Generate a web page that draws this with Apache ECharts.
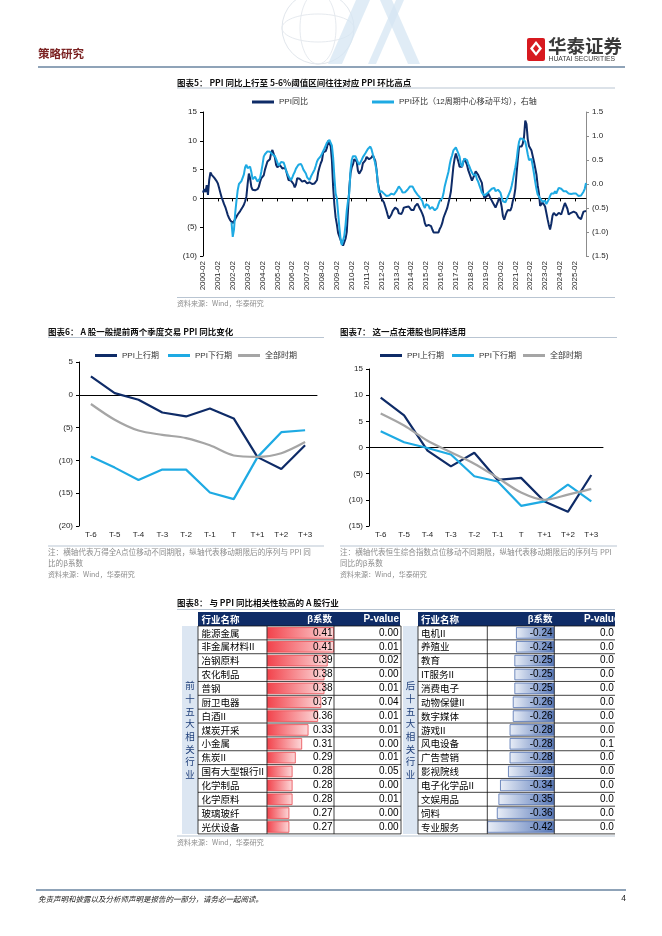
<!DOCTYPE html>
<html><head><meta charset="utf-8">
<script src="https://cdn.jsdelivr.net/npm/echarts@6/dist/echarts.min.js"></script>
<style>html,body{margin:0;padding:0;background:#fff}#c{width:662px;height:936px}</style>
</head><body><div id="c"></div>
<script>
// ---------------- DATA ----------------
// Chart 5: monthly categories 2000-02 .. 2025-11
const months = [];
for (let y = 2000; y <= 2025; y++) for (let m = 1; m <= 12; m++) {
  if (y === 2000 && m < 2) continue;
  if (y === 2025 && m > 11) break;
  months.push(y + '-' + String(m).padStart(2, '0'));
}
// PPI YoY (%), 2000-02 .. 2025-11
const ppiYoY = [
  1.0, 1.6, 1.1, 2.3, 0.6, 3.2, 4.5, 4.1, 3.8, 3.6, 3.4,
  3.0, 2.6, 1.8, 1.0, 0.2, -0.4, -1.0, -1.5, -2.2, -2.9, -3.4, -3.8,
  -4.1, -4.3, -4.2, -3.6, -3.2, -2.8, -2.6, -2.2, -1.9, -1.5, -1.1, -0.5,
  0.3, 2.5, 4.3, 3.5, 2.0, 1.5, 1.4, 1.4, 1.5, 1.6, 2.0, 2.8,
  3.5, 3.6, 4.0, 5.0, 5.7, 6.4, 6.4, 6.8, 7.9, 8.4, 8.1, 7.1,
  5.8, 5.4, 5.6, 5.8, 5.9, 5.2, 5.2, 5.3, 4.9, 4.0, 3.2, 3.2,
  3.1, 3.0, 2.5, 1.9, 2.4, 3.5, 3.6, 3.4, 3.5, 2.9, 2.8, 3.1,
  3.3, 2.6, 2.7, 2.8, 2.8, 2.5, 2.4, 2.6, 2.7, 3.2, 4.6, 5.4,
  6.1, 6.6, 8.0, 8.1, 8.2, 8.8, 10.0, 10.1, 9.1, 6.6, 2.0, -1.1,
  -3.3, -4.5, -6.0, -6.6, -7.2, -7.8, -8.2, -7.9, -7.0, -5.8, -2.1, 1.7,
  4.3, 5.4, 5.9, 6.8, 7.1, 6.4, 4.8, 4.3, 4.3, 5.0, 6.1, 5.9,
  6.6, 7.2, 7.3, 6.8, 6.8, 7.1, 7.5, 7.3, 6.5, 5.0, 2.7, 1.7,
  0.7, 0.0, -0.3, -0.7, -1.4, -2.1, -2.9, -3.5, -3.6, -2.8, -2.2, -1.9,
  -1.6, -1.6, -1.9, -2.6, -2.9, -2.7, -2.3, -1.6, -1.3, -1.5, -1.4, -1.4,
  -1.6, -2.0, -2.3, -2.0, -1.4, -1.1, -0.9, -1.2, -1.8, -2.2, -2.7, -3.3,
  -4.3, -4.8, -4.6, -4.6, -4.6, -4.8, -5.4, -5.9, -5.9, -5.9, -5.9, -5.9,
  -5.3, -4.9, -4.3, -3.4, -2.8, -2.6, -1.7, -0.8, 0.1, 1.2, 3.3, 5.5,
  6.9, 7.8, 7.6, 6.4, 5.5, 5.5, 5.5, 6.3, 6.9, 6.9, 5.8, 4.9,
  4.3, 3.7, 3.1, 3.4, 4.1, 4.7, 4.6, 4.1, 3.6, 3.3, 2.7, 0.9,
  0.1, 0.1, 0.4, 0.9, 0.6, 0.0, -0.3, -0.8, -1.2, -1.6, -1.4, -0.5,
  0.1, -0.4, -1.5, -3.1, -3.7, -3.0, -2.4, -2.0, -2.1, -2.1, -1.5, -0.4,
  0.3, 1.7, 4.4, 6.8, 9.0, 8.8, 9.0, 9.5, 10.7, 13.5, 12.9, 10.3,
  9.1, 8.8, 8.3, 8.0, 6.4, 6.1, 4.2, 2.3, 0.9, -1.3, -1.3, -0.7,
  -0.8, -1.4, -2.5, -3.6, -4.6, -5.4, -4.4, -3.0, -2.5, -2.6, -3.0, -2.7,
  -2.5, -2.7, -2.8, -2.5, -1.4, -0.8, -0.8, -1.8, -2.8, -2.9, -2.5, -2.3,
  -2.3, -2.2, -2.5, -2.7, -3.3, -3.6, -3.6, -2.9, -2.3, -2.1, -2.2
];
// PPI MoM, 12-period centred moving average (%), right axis; starts 2002-01
const ppiMoMStart = 23;
const ppiMoM = [
  -0.80, -1.10, -0.95, -0.60, -0.35, -0.13, 0.00, 0.03, 0.06, 0.10, 0.20, 0.35,
  0.40, 0.33, 0.30, 0.36, 0.25, 0.10, 0.08, 0.15, 0.10, 0.05, 0.01, 0.12,
  0.25, 0.40, 0.57, 0.62, 0.66, 0.68, 0.67, 0.67, 0.65, 0.62, 0.58, 0.58,
  0.52, 0.48, 0.38, 0.40, 0.46, 0.50, 0.45, 0.38, 0.28, 0.22, 0.16, 0.12,
  0.08, 0.13, 0.20, 0.25, 0.32, 0.36, 0.40, 0.43, 0.42, 0.37, 0.30, 0.26,
  0.22, 0.14, 0.10, 0.08, 0.15, 0.20, 0.25, 0.30, 0.38, 0.47, 0.52, 0.53,
  0.58, 0.63, 0.66, 0.74, 0.80, 0.86, 0.90, 0.92, 0.90, 0.80, 0.55, 0.15,
  -0.20, -0.30, -0.60, -0.90, -1.15, -1.27, -1.24, -1.08, -0.85, -0.55, -0.35, -0.19,
  0.29, 0.50, 0.58, 0.60, 0.58, 0.55, 0.45, 0.40, 0.43, 0.50, 0.56, 0.60,
  0.64, 0.68, 0.73, 0.77, 0.78, 0.72, 0.62, 0.53, 0.42, 0.28, 0.05, -0.18,
  -0.22, -0.15, -0.18, -0.20, -0.22, -0.25, -0.26, -0.24, -0.22, -0.20, -0.22, -0.22,
  -0.20, -0.15, -0.10, -0.05, -0.02, -0.12, -0.18, -0.20, -0.17, -0.14, -0.12, -0.10,
  -0.05, -0.02, -0.05, -0.10, -0.15, -0.18, -0.22, -0.25, -0.28, -0.32, -0.36, -0.45,
  -0.50, -0.42, -0.40, -0.45, -0.52, -0.50, -0.48, -0.52, -0.55, -0.54, -0.50, -0.42,
  -0.35, -0.37, -0.30, -0.20, -0.05, 0.05, 0.15, 0.25, 0.40, 0.52, 0.60, 0.70,
  0.74, 0.76, 0.70, 0.64, 0.57, 0.42, 0.36, 0.47, 0.53, 0.52, 0.50, 0.42,
  0.36, 0.29, 0.24, 0.19, 0.22, 0.20, 0.10, 0.05, -0.03, -0.10, -0.18, -0.22,
  -0.24, -0.22, -0.20, -0.18, -0.15, -0.12, -0.10, -0.10, -0.08, -0.15, -0.18, -0.12,
  -0.08, -0.18, -0.28, -0.36, -0.40, -0.38, -0.32, -0.26, -0.22, -0.14, -0.04, 0.08,
  0.22, 0.35, 0.50, 0.72, 0.88, 0.95, 0.96, 0.94, 0.98, 0.88, 0.76, 0.62,
  0.50, 0.47, 0.52, 0.38, 0.22, 0.05, -0.10, -0.22, -0.26, -0.30, -0.34, -0.37,
  -0.36, -0.35, -0.42, -0.40, -0.32, -0.25, -0.20, -0.24, -0.20, -0.15, -0.20, -0.14,
  -0.08, -0.05, -0.10, -0.14, -0.15, -0.12, -0.15, -0.19, -0.20, -0.17, -0.21, -0.19,
  -0.20, -0.22, -0.20, -0.22, -0.25, -0.21, -0.24, -0.20, -0.16, -0.10, 0.02
];
const yLeftTicks = [-10, 15, 5];   // min, max, step
const yRightTicks = [-1.5, 1.5, 0.5];

// Charts 6 & 7
const tCats = ['T-6', 'T-5', 'T-4', 'T-3', 'T-2', 'T-1', 'T', 'T+1', 'T+2', 'T+3'];
const aUp   = [2.8, 0.25, -0.75, -2.7, -3.3, -2.1, -3.6, -9.5, -11.3, -7.7];
const aDown = [-9.4, -11.1, -13.0, -11.4, -11.4, -14.9, -15.9, -9.5, -5.7, -5.4];
const aAll  = [-1.4, -3.8, -5.45, -6.1, -6.6, -7.7, -9.25, -9.45, -8.9, -7.2];
const hUp   = [9.55, 6.15, -0.6, -3.6, -1.0, -6.2, -5.8, -10.3, -12.3, -5.25];
const hDown = [3.1, 1.0, -0.1, -1.35, -5.5, -6.5, -11.15, -10.3, -7.1, -10.3];
const hAll  = [6.5, 4.2, 1.3, -0.9, -3.1, -5.8, -8.6, -10.0, -9.0, -7.9];

// Chart 8 table
const topNames = ['能源金属', '非金属材料II', '冶钢原料', '农化制品', '普钢', '厨卫电器', '白酒II', '煤炭开采', '小金属', '焦炭II', '国有大型银行II', '化学制品', '化学原料', '玻璃玻纤', '光伏设备'];
const topBeta  = [0.41, 0.41, 0.39, 0.38, 0.38, 0.37, 0.36, 0.33, 0.31, 0.29, 0.28, 0.28, 0.28, 0.27, 0.27];
const topP     = ['0.00', '0.01', '0.02', '0.00', '0.01', '0.04', '0.01', '0.01', '0.00', '0.01', '0.05', '0.00', '0.01', '0.00', '0.00'];
const botNames = ['电机II', '养殖业', '教育', 'IT服务II', '消费电子', '动物保健II', '数字媒体', '游戏II', '风电设备', '广告营销', '影视院线', '电子化学品II', '文娱用品', '饲料', '专业服务'];
const botBeta  = [-0.24, -0.24, -0.25, -0.25, -0.25, -0.26, -0.26, -0.28, -0.28, -0.28, -0.29, -0.34, -0.35, -0.36, -0.42];
const botP     = ['0.0', '0.0', '0.0', '0.0', '0.0', '0.0', '0.0', '0.0', '0.1', '0.0', '0.0', '0.0', '0.0', '0.0', '0.0'];

// ---------------- STYLE ----------------
const NAVY = '#0E2B67', SKY = '#1EAAE3', GREY = '#A5A5A5';
const LAT = "'Liberation Sans','Noto Sans CJK SC',sans-serif";
const CJK = "'Noto Sans CJK SC',sans-serif";
const TXT = '#262626', SUB = '#8C8C8C', RULE = '#B9C5D2';
const ROWT = 626, ROWH = 13.86;

function paren(v, d) { const s = Math.abs(v).toFixed(d); return v < -1e-9 ? '(' + s + ')' : s; }

const momData = Array(ppiMoMStart).fill(null).concat(ppiMoM);

// ---------------- GRAPHICS (page furniture) ----------------
const g = [];
function T(text, x, y, font, fill, align, va, extraStyle) {
  g.push({ type: 'text', z: 20, style: Object.assign({ text, x, y, font, fill: fill || TXT, textAlign: align || 'left', textVerticalAlign: va || 'middle' }, extraStyle || {}) });
}
function L(x1, y1, x2, y2, stroke, w, z) {
  g.push({ type: 'line', z: z || 20, shape: { x1, y1, x2, y2 }, style: { stroke, lineWidth: w || 1 } });
}
function R(x, y, w, h, fill, z) {
  g.push({ type: 'rect', z: z || 1, shape: { x, y, width: w, height: h }, style: { fill } });
}
// header decoration (globe + stripes)
g.push({ type: 'circle', z: 0, shape: { cx: 318, cy: 28, r: 36 }, style: { fill: 'none', stroke: '#E1E6EC', lineWidth: 1 } });
g.push({ type: 'ellipse', z: 0, shape: { cx: 318, cy: 28, rx: 18, ry: 36 }, style: { fill: 'none', stroke: '#E6EAEF', lineWidth: 1 } });
g.push({ type: 'ellipse', z: 0, shape: { cx: 318, cy: 28, rx: 36, ry: 14 }, style: { fill: 'none', stroke: '#E6EAEF', lineWidth: 1 } });
[[356, 0, 370, 0, 342, 64, 328, 64], [380, 0, 392, 0, 420, 64, 408, 64], [396, 0, 404, 0, 376, 64, 368, 64]].forEach(p => {
  g.push({ type: 'polygon', z: 0, shape: { points: [[p[0], p[1]], [p[2], p[3]], [p[4], p[5]], [p[6], p[7]]] }, style: { fill: '#D6E6F3', opacity: 0.75 } });
});
T('策略研究', 38, 54, 'bold 11.5px ' + CJK, '#7C2323');
// logo
g.push({ type: 'rect', z: 5, shape: { x: 527, y: 38, width: 18, height: 23, r: 2 }, style: { fill: '#D7191F' } });
g.push({ type: 'polygon', z: 6, shape: { points: [[536, 41], [542, 48.5], [536, 56], [530, 48.5]] }, style: { fill: '#fff' } });
g.push({ type: 'polygon', z: 7, shape: { points: [[536, 44.5], [539, 48.5], [536, 52.5], [533, 48.5]] }, style: { fill: '#D7191F' } });
T('华泰证券', 548, 46, 'bold 18.5px ' + CJK, '#3A3A3A');
T('HUATAI SECURITIES', 548.5, 59.5, '6.8px ' + LAT, '#3A3A3A');
L(38, 67, 625, 67, '#8FA3B8', 2);

// chart 5 texts
T('图表5： PPI 同比上行至 5-6%阈值区间往往对应 PPI 环比高点', 177, 82.5, 'bold 8.5px ' + CJK, '#111');
L(177, 88, 615, 88, RULE, 1);
L(177, 297.5, 615, 297.5, RULE, 1);
T('资料来源：Wind，华泰研究', 177, 303.5, '7px ' + CJK, SUB);

// chart 6 texts
T('图表6： A 股一般提前两个季度交易 PPI 同比变化', 48, 332, 'bold 8.5px ' + CJK, '#111');
L(48, 337.5, 324, 337.5, RULE, 1);
L(48, 546, 324, 546, RULE, 1);
T('注：横轴代表万得全A点位移动不同期限，纵轴代表移动期限后的序列与 PPI 同', 48, 552, '7.6px ' + CJK, SUB);
T('比的β系数', 48, 563, '7.6px ' + CJK, SUB);
T('资料来源：Wind，华泰研究', 48, 574.5, '7px ' + CJK, SUB);

// chart 7 texts
T('图表7： 这一点在港股也同样适用', 340, 332, 'bold 8.5px ' + CJK, '#111');
L(340, 337.5, 617, 337.5, RULE, 1);
L(340, 546, 617, 546, RULE, 1);
T('注：横轴代表恒生综合指数点位移动不同期限，纵轴代表移动期限后的序列与 PPI', 340, 552, '7.6px ' + CJK, SUB);
T('同比的β系数', 340, 563, '7.6px ' + CJK, SUB);
T('资料来源：Wind，华泰研究', 340, 574.5, '7px ' + CJK, SUB);

// chart 8 table furniture
T('图表8： 与 PPI 同比相关性较高的 A 股行业', 177, 603, 'bold 8.5px ' + CJK, '#111');
L(177, 609.5, 615, 609.5, RULE, 1);
const nRows = topNames.length, tBot = ROWT + nRows * ROWH;
R(198, 612, 202, ROWT - 612, '#0F2C67', 1);
R(418, 612, 200, ROWT - 612, '#0F2C67', 1);
R(182, ROWT, 16, tBot - ROWT, '#DCE6F2', 1);
R(403, ROWT, 15, tBot - ROWT, '#DCE6F2', 1);
T('行业名称', 201.5, 619, 'bold 9.5px ' + CJK, '#fff');
T('β系数', 332, 619, 'bold 9.5px ' + LAT, '#fff', 'right');
T('P-value', 399, 619, 'bold 10px ' + LAT, '#fff', 'right');
T('行业名称', 421, 619, 'bold 9.5px ' + CJK, '#fff');
T('β系数', 552.5, 619, 'bold 9.5px ' + LAT, '#fff', 'right');
T('P-value', 619.5, 619, 'bold 10px ' + LAT, '#fff', 'right');
T('前\n十\n五\n大\n相\n关\n行\n业', 190, (ROWT + tBot) / 2, '9.5px ' + CJK, '#1F3F7A', 'center', 'middle', { lineHeight: 12.7 });
T('后\n十\n五\n大\n相\n关\n行\n业', 410.5, (ROWT + tBot) / 2, '9.5px ' + CJK, '#1F3F7A', 'center', 'middle', { lineHeight: 12.7 });
for (let k = 0; k <= nRows; k++) {
  const y = ROWT + k * ROWH;
  L(198, y, 401, y, '#111', 0.8, 30);
  L(418, y, 620, y, '#111', 0.8, 30);
}
[198, 267, 334, 401, 418, 487.3, 554.3].forEach(x => L(x, ROWT, x, tBot, '#111', 0.8, 30));
// page clip of the right table
R(615, 611, 47, tBot - 611 + 1, '#fff', 60);
L(177, 836, 615, 836, RULE, 1);
T('资料来源：Wind，华泰研究', 177, 842, '7px ' + CJK, SUB);

// footer
L(36, 890, 626, 890, '#8FA3B8', 2);
T('免责声明和披露以及分析师声明是报告的一部分，请务必一起阅读。', 38, 899, 'italic 7.5px ' + CJK, '#222');
T('4', 626, 899, '8.5px ' + LAT, '#222', 'right');

// ---------------- OPTION ----------------
const axisLbl = { fontSize: 8, color: TXT, fontFamily: LAT };
const legendBase = { icon: 'rect', itemWidth: 22, itemHeight: 3, padding: 0, textStyle: { fontSize: 8, color: '#333', fontFamily: LAT }, selectedMode: false };
const lineS = (name, data, color, xi, yi, extra) => Object.assign({
  type: 'line', name, data, xAxisIndex: xi, yAxisIndex: yi, symbol: 'none', showSymbol: false,
  lineStyle: { width: 2, color }, itemStyle: { color }, color, animation: false
}, extra || {});
const catY = (gi, data, pos, offset, align, margin, font, color) => ({
  gridIndex: gi, type: 'category', inverse: true, data, position: pos, offset: offset || 0, z: 10,
  axisLine: { show: false }, axisTick: { show: false }, splitLine: { show: false },
  axisLabel: { interval: 0, align, margin, fontSize: font === CJK ? 9.5 : 10, fontFamily: font, color: color || '#000' }
});

const option = {
  animation: false,
  backgroundColor: '#fff',
  grid: [
    { left: 203, top: 112, width: 383, height: 144 },
    { left: 79, top: 362, width: 238, height: 164 },
    { left: 369, top: 369, width: 234, height: 157 },
    { left: 267, top: ROWT, width: 67, height: nRows * ROWH },
    { left: 487.3, top: ROWT, width: 67, height: nRows * ROWH }
  ],
  legend: [
    Object.assign({ data: ['PPI同比'], left: 252, top: 98 }, legendBase),
    Object.assign({ data: ['PPI环比（12周期中心移动平均），右轴'], left: 372, top: 98 }, legendBase),
    Object.assign({ data: ['PPI上行期'], left: 95, top: 351.5 }, legendBase),
    Object.assign({ data: ['PPI下行期'], left: 168, top: 351.5 }, legendBase),
    Object.assign({ data: ['全部时期'], left: 238, top: 351.5 }, legendBase),
    Object.assign({ data: ['PPI上行期 '], left: 380, top: 351.5, formatter: n => n.trim() }, legendBase),
    Object.assign({ data: ['PPI下行期 '], left: 452, top: 351.5, formatter: n => n.trim() }, legendBase),
    Object.assign({ data: ['全部时期 '], left: 523, top: 351.5, formatter: n => n.trim() }, legendBase)
  ],
  xAxis: [
    { gridIndex: 0, type: 'category', data: months, boundaryGap: false, axisLine: { show: false, onZero: false }, axisTick: { show: false },
      axisLabel: Object.assign({ interval: 11, rotate: 90, margin: 5 }, axisLbl), splitLine: { show: false } },
    { gridIndex: 0, type: 'category', data: months, boundaryGap: false, position: 'bottom',
      axisLine: { onZero: true, onZeroAxisIndex: 0, lineStyle: { color: '#000', width: 1 } },
      axisTick: { interval: 11, length: 3, lineStyle: { color: '#000' } }, axisLabel: { show: false }, splitLine: { show: false } },
    { gridIndex: 1, type: 'category', data: tCats, axisLine: { show: false, onZero: false }, axisTick: { show: false },
      axisLabel: Object.assign({ interval: 0, margin: 5 }, axisLbl) },
    { gridIndex: 1, type: 'category', data: tCats, position: 'bottom',
      axisLine: { onZero: true, onZeroAxisIndex: 2, lineStyle: { color: '#000', width: 1 } },
      axisTick: { length: 3, lineStyle: { color: '#000' } }, axisLabel: { show: false } },
    { gridIndex: 2, type: 'category', data: tCats, axisLine: { show: false, onZero: false }, axisTick: { show: false },
      axisLabel: Object.assign({ interval: 0, margin: 5 }, axisLbl) },
    { gridIndex: 2, type: 'category', data: tCats, position: 'bottom',
      axisLine: { onZero: true, onZeroAxisIndex: 3, lineStyle: { color: '#000', width: 1 } },
      axisTick: { length: 3, lineStyle: { color: '#000' } }, axisLabel: { show: false } },
    { gridIndex: 3, type: 'value', min: 0.2, max: 0.41, startValue: 0.2, show: false },
    { gridIndex: 4, type: 'value', min: -0.42, max: 0, show: false }
  ],
  yAxis: [
    { gridIndex: 0, type: 'value', min: yLeftTicks[0], max: yLeftTicks[1], interval: yLeftTicks[2],
      axisLine: { show: true, lineStyle: { color: '#000' } }, axisTick: { show: true, length: 3, lineStyle: { color: '#000' } },
      axisLabel: Object.assign({ formatter: v => paren(v, 0), margin: 6 }, axisLbl), splitLine: { show: false } },
    { gridIndex: 0, type: 'value', position: 'right', min: yRightTicks[0], max: yRightTicks[1], interval: yRightTicks[2],
      axisLine: { show: true, lineStyle: { color: '#8C8C8C' } }, axisTick: { show: true, length: 3, lineStyle: { color: '#8C8C8C' } },
      axisLabel: Object.assign({ formatter: v => paren(v, 1), margin: 6 }, axisLbl), splitLine: { show: false } },
    { gridIndex: 1, type: 'value', min: -20, max: 5, interval: 5,
      axisLine: { show: true, lineStyle: { color: '#000' } }, axisTick: { show: true, length: 3, lineStyle: { color: '#000' } },
      axisLabel: Object.assign({ formatter: v => paren(v, 0), margin: 6 }, axisLbl), splitLine: { show: false } },
    { gridIndex: 2, type: 'value', min: -15, max: 15, interval: 5,
      axisLine: { show: true, lineStyle: { color: '#000' } }, axisTick: { show: true, length: 3, lineStyle: { color: '#000' } },
      axisLabel: Object.assign({ formatter: v => paren(v, 0), margin: 6 }, axisLbl), splitLine: { show: false } },
    catY(3, topNames, 'left', 0, 'left', 65.5, CJK),
    catY(3, topBeta.map(v => v.toFixed(2)), 'right', 0, 'right', -1.5, LAT),
    catY(3, topP, 'right', 66, 'right', -1.5, LAT),
    catY(4, botNames, 'left', 0, 'left', 66.3, CJK),
    catY(4, botBeta.map(v => v.toFixed(2)), 'right', 0, 'right', -1.8, LAT),
    catY(4, botP, 'right', 45.7, 'left', 0, LAT)
  ],
  series: [
    lineS('PPI同比', ppiYoY, NAVY, 0, 0),
    lineS('PPI环比（12周期中心移动平均），右轴', momData, SKY, 0, 1, { connectNulls: false }),
    lineS('PPI上行期', aUp, NAVY, 2, 2, { lineStyle: { width: 2.2, color: NAVY } }),
    lineS('PPI下行期', aDown, SKY, 2, 2, { lineStyle: { width: 2.2, color: SKY } }),
    lineS('全部时期', aAll, GREY, 2, 2, { smooth: 0.3, lineStyle: { width: 2.2, color: GREY } }),
    lineS('PPI上行期 ', hUp, NAVY, 4, 3, { lineStyle: { width: 2.2, color: NAVY } }),
    lineS('PPI下行期 ', hDown, SKY, 4, 3, { lineStyle: { width: 2.2, color: SKY } }),
    lineS('全部时期 ', hAll, GREY, 4, 3, { smooth: 0.3, lineStyle: { width: 2.2, color: GREY } }),
    { type: 'bar', xAxisIndex: 6, yAxisIndex: 4, data: topBeta, barWidth: 11.5, clip: true, animation: false, z: 1,
      itemStyle: { borderColor: '#E8474E', borderWidth: 0.8,
        color: new echarts.graphic.LinearGradient(0, 0, 1, 0, [{ offset: 0, color: '#F2424B' }, { offset: 1, color: '#FCD9DA' }]) } },
    { type: 'bar', xAxisIndex: 7, yAxisIndex: 7, data: botBeta, barWidth: 11.5, clip: true, animation: false, z: 1,
      itemStyle: { borderColor: '#4F6FAE', borderWidth: 0.8,
        color: new echarts.graphic.LinearGradient(0, 0, 1, 0, [{ offset: 0, color: '#E9EEF7' }, { offset: 1, color: '#5677B8' }]) } }
  ],
  graphic: g
};

const chart = echarts.init(document.getElementById('c'));
chart.setOption(option);
</script></body></html>
